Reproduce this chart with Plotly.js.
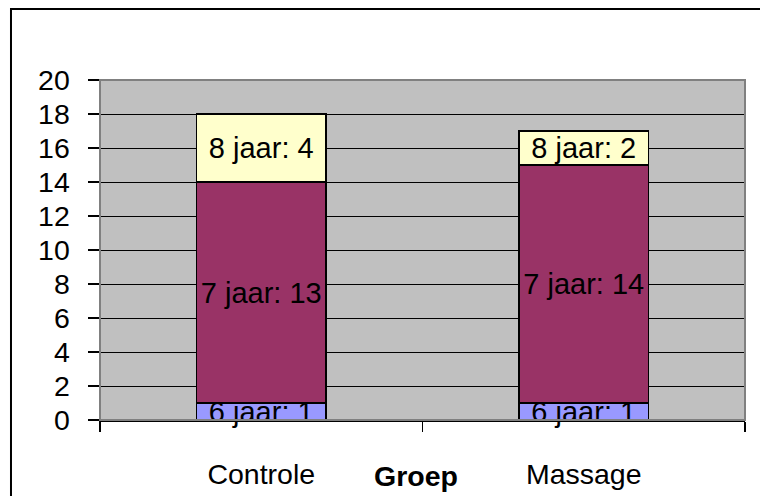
<!DOCTYPE html>
<html>
<head>
<meta charset="utf-8">
<script src="https://cdn.plot.ly/plotly-3.0.1.min.js"></script>
<style>html,body{margin:0;padding:0;background:#fff;}#chart{width:760px;height:496px;}</style>
</head>
<body>
<div id="chart"></div>
<script>
const categories = ['Controle', 'Massage'];
const seriesNames = ['6 jaar', '7 jaar', '8 jaar'];
const values6 = [1, 1];
const values7 = [13, 14];
const values8 = [4, 2];
const yTickVals = [0, 2, 4, 6, 8, 10, 12, 14, 16, 18, 20];

const seriesValues = [values6, values7, values8];
const seriesColors = ['#9999FF', '#993366', '#FFFFCC'];
const FONT = 'Liberation Sans, Arial, sans-serif';

const traces = seriesNames.map((name, i) => ({
  type: 'bar',
  name: name,
  x: categories,
  y: seriesValues[i],
  text: seriesValues[i].map(v => name + ': ' + v),
  textposition: 'inside',
  insidetextanchor: 'middle',
  textangle: 0,
  constraintext: 'none',
  cliponaxis: false,
  textfont: {family: FONT, size: 29, color: '#000'},
  marker: {color: seriesColors[i], line: {color: '#000', width: 1.5}},
  hoverinfo: 'none'
}));

const layout = {
  width: 760, height: 496,
  margin: {l: 100, r: 15, t: 80, b: 76},
  barmode: 'stack',
  bargap: 0.597,
  showlegend: false,
  plot_bgcolor: '#C0C0C0',
  paper_bgcolor: '#FFFFFF',
  font: {family: FONT, size: 28, color: '#000'},
  xaxis: {
    type: 'category',
    tickson: 'boundaries',
    ticks: 'outside', ticklen: 10, tickwidth: 1.5, tickcolor: '#000',
    showline: true, linecolor: '#000', linewidth: 1.5,
    showgrid: false, zeroline: false,
    tickfont: {family: FONT, size: 28.5, color: '#000'},
    ticklabelstandoff: 28
  },
  yaxis: {
    range: [0, 20],
    tickvals: yTickVals,
    ticks: 'outside', ticklen: 11, tickwidth: 1.2, tickcolor: '#000',
    showline: true, linecolor: '#404040', linewidth: 1.5,
    showgrid: true, gridcolor: '#000', gridwidth: 1,
    zeroline: false,
    tickfont: {family: FONT, size: 28.5, color: '#000'},
    ticklabelstandoff: 12
  },
  annotations: [{
    text: '<b>Groep</b>', xref: 'paper', yref: 'paper',
    x: 0.49, y: 0, xanchor: 'center', yanchor: 'middle', yshift: -56,
    showarrow: false, font: {family: FONT, size: 28.5, color: '#000'}
  }],
  shapes: [
    {type: 'rect', xref: 'paper', yref: 'paper', x0: 0, x1: 1, y0: 0, y1: 1,
     line: {color: '#808080', width: 2}, layer: 'above'},
    {type: 'rect', xref: 'paper', yref: 'paper', x0: -0.138, x1: 1.5, y0: -1, y1: 1.2088,
     line: {color: '#000', width: 2}, layer: 'above'}
  ]
};

Plotly.newPlot('chart', traces, layout, {displayModeBar: false, staticPlot: true});
</script>
</body>
</html>
